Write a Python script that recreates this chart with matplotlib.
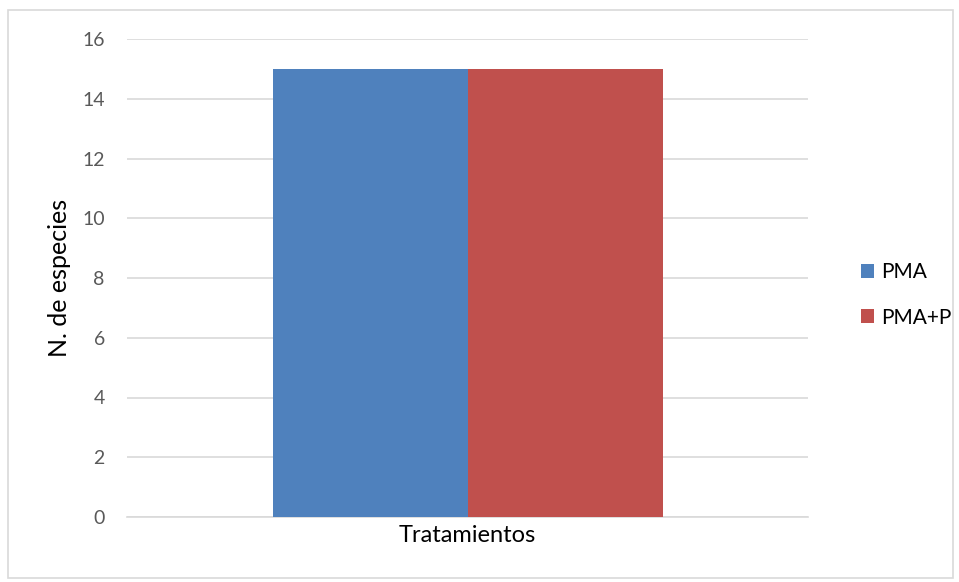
import matplotlib
matplotlib.use("Agg")
import matplotlib.pyplot as plt
from matplotlib.patches import Rectangle

categories = ["Tratamientos"]
series_names = ["PMA", "PMA+P"]
values_pma = [15]
values_pmap = [15]
colors = ["#4F81BD", "#C0504D"]

plt.rcParams['font.family'] = ['Lato', 'DejaVu Sans']

fig = plt.figure(figsize=(9.59, 5.82), dpi=100)
fig.patches.append(Rectangle((8/959, 1-578/582), (953-8)/959, (578-10)/582,
                             transform=fig.transFigure, fill=False,
                             edgecolor="#d9d9d9", linewidth=1.2))
ax = fig.add_axes([127/959, 1-517/582, (808-127)/959, (517-39)/582])

w = 195/681
x = [0]
ax.bar([xi - w/2 for xi in x], values_pma, width=w, color=colors[0], label=series_names[0], zorder=3)
ax.bar([xi + w/2 for xi in x], values_pmap, width=w, color=colors[1], label=series_names[1], zorder=3)

ax.set_xlim(-0.5, 0.5)
ax.set_ylim(0, 16)
ax.set_yticks(range(0, 17, 2))
ax.set_xticks(x)
ax.set_xticklabels(categories, fontsize=17, color="#000000")
ax.tick_params(axis="y", length=0, labelsize=14, labelcolor="#595959", pad=16)
ax.tick_params(axis="x", length=0, pad=6)
ax.grid(axis="y", color="#d9d9d9", linewidth=1.2, zorder=0)
for s in ["top", "right", "left"]:
    ax.spines[s].set_visible(False)
ax.spines["bottom"].set_color("#d9d9d9")
ax.spines["bottom"].set_linewidth(1.2)
ax.set_ylabel("N. de especies", fontsize=18, labelpad=8)

leg = fig.legend(loc="center left", bbox_to_anchor=(842/959, 1-295/582), frameon=False,
                 fontsize=15, handlelength=0.65, handleheight=0.65, handletextpad=0.35,
                 labelspacing=1.2)

fig.savefig("out.png", dpi=100)
